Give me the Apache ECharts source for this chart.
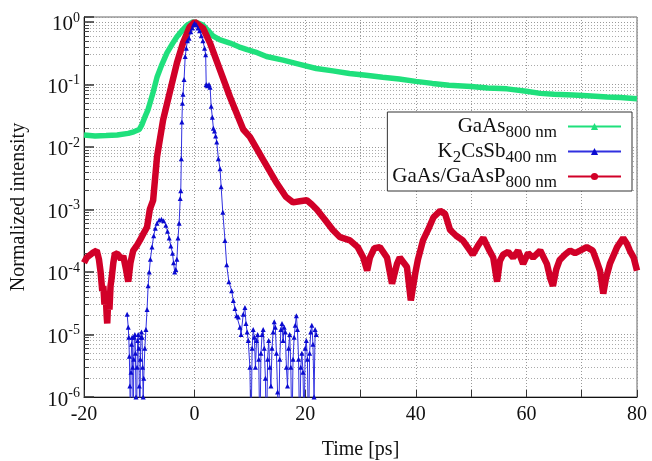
<!DOCTYPE html>
<html><head><meta charset="utf-8">
<script src="https://cdn.jsdelivr.net/npm/echarts@6/dist/echarts.min.js"></script>
<style>html,body{margin:0;padding:0;background:#fff}#c{width:652px;height:461px}</style>
</head><body><div id="c"></div>
<script>
// GaAs 800 nm  [time ps, normalized intensity]
const gaasData = [[-20,0.0155],[-18,0.0150],[-16,0.0152],[-14,0.0155],[-12,0.0165],[-11,0.0175],[-10,0.019],[-9.5,0.023],[-9,0.030],[-8.4,0.040],[-7.5,0.075],[-6.8,0.13],[-6,0.2],[-5,0.32],[-4,0.45],[-3.2,0.58],[-2.3,0.72],[-1.4,0.88],[-0.3,1.0],[0.5,0.97],[1.5,0.89],[2.5,0.72],[3.3,0.6],[4.5,0.52],[6.4,0.46],[8,0.40],[9.5,0.36],[11,0.33],[13,0.28],[16,0.245],[19,0.21],[22,0.18],[25,0.165],[28,0.15],[31,0.14],[34,0.13],[37,0.122],[40,0.112],[43,0.104],[46,0.097],[50,0.093],[53,0.088],[56.5,0.085],[60,0.078],[62.5,0.072],[65,0.070],[68.4,0.068],[71,0.066],[74.6,0.063],[77,0.062],[80,0.059]];
// K2CsSb 400 nm
const k2csData = [[-12.2,2.1e-5],[-12.0,1.3e-5],[-11.9,9e-6],[-11.8,4.5e-6],[-11.7,1.5e-6],[-11.6,3e-7],[-11.5,2.5e-6],[-11.4,7e-6],[-11.3,9e-6],[-11.2,3e-6],[-11.1,2e-7],[-11.0,4e-6],[-10.9,9e-6],[-10.8,1.0e-5],[-10.7,5e-6],[-10.6,1e-6],[-10.5,2e-7],[-10.4,3e-6],[-10.3,8e-6],[-10.2,1.0e-5],[-10.1,6e-6],[-10.0,1.5e-6],[-9.9,2e-7],[-9.8,4e-6],[-9.7,9e-6],[-9.6,1.1e-5],[-9.5,9e-6],[-9.4,3e-6],[-9.3,1e-6],[-9.2,2e-6],[-9.0,6e-6],[-8.8,1.2e-5],[-8.6,2.5e-5],[-8.4,6e-5],[-8.2,1.0e-4],[-8.0,1.6e-4],[-7.7,2.5e-4],[-7.4,3.8e-4],[-7.1,5e-4],[-6.8,6e-4],[-6.4,6.8e-4],[-6.0,7e-4],[-5.6,6.6e-4],[-5.2,5.6e-4],[-4.9,4.5e-4],[-4.6,3.5e-4],[-4.3,2.6e-4],[-4.0,2.0e-4],[-3.8,1.4e-4],[-3.6,1.0e-4],[-3.4,1.1e-4],[-3.2,1.6e-4],[-3.0,3.5e-4],[-2.8,6e-4],[-2.6,1.5e-3],[-2.5,2.0e-3],[-2.4,6.5e-3],[-2.3,0.025],[-2.2,0.05],[-2.1,0.07],[-1.9,0.12],[-1.7,0.28],[-1.5,0.38],[-1.3,0.5],[-1.0,0.55],[-0.7,0.7],[-0.4,0.8],[-0.2,0.9],[0,0.95],[0.3,0.9],[0.6,0.8],[0.9,0.72],[1.2,0.6],[1.5,0.5],[1.8,0.38],[2.0,0.3],[2.1,0.1],[2.3,0.095],[2.6,0.1],[2.8,0.09],[3.0,0.045],[3.2,0.03],[3.4,0.02],[3.6,0.018],[3.8,0.015],[4.0,0.012],[4.3,0.0065],[4.6,0.0045],[4.8,0.0023],[5.1,0.0009],[5.5,3.2e-4],[5.8,1.3e-4],[6.2,7e-5],[6.7,5e-5],[7.0,3.5e-5],[7.3,2.6e-5],[7.6,2.0e-5],[7.9,1.9e-5],[8.2,1.3e-5],[8.4,1.0e-5],[8.8,2.1e-5],[9.1,2.7e-5],[9.3,1.5e-5],[9.5,1.1e-5],[9.7,8e-6],[10.0,3e-6],[10.2,2e-7],[10.4,6e-6],[10.6,1.2e-5],[10.8,9e-6],[11.0,3e-6],[11.2,8e-6],[11.4,1.0e-5],[11.6,4e-6],[11.8,2e-7],[12.0,5e-6],[12.2,1.0e-5],[12.4,1.2e-5],[12.6,6e-6],[12.8,2e-6],[13.0,2e-7],[13.2,4e-6],[13.4,8e-6],[13.6,3e-6],[13.8,1.5e-6],[14.0,6e-6],[14.2,1.1e-5],[14.4,1.6e-5],[14.6,1.3e-5],[14.8,5e-6],[15.0,1.2e-6],[15.2,3e-7],[15.4,4e-6],[15.6,1.2e-5],[15.8,1.5e-5],[16.0,8e-6],[16.2,1.3e-5],[16.4,1.1e-5],[16.6,3e-6],[16.8,1.5e-6],[17.0,6e-6],[17.2,1.0e-5],[17.4,3e-6],[17.6,2e-7],[17.8,4e-6],[18.0,9e-6],[18.2,1.4e-5],[18.4,2.0e-5],[18.6,1.2e-5],[18.8,4e-6],[19.0,2e-7],[19.2,3e-6],[19.4,5e-6],[19.6,2.5e-6],[19.8,3e-7],[20.0,6e-6],[20.2,8e-6],[20.4,4e-6],[20.6,2e-7],[20.8,5e-6],[21.0,1.1e-5],[21.2,1.4e-5],[21.4,7e-6],[21.6,1e-6],[21.8,1.2e-5],[22.0,1e-5]];
// GaAs/GaAsP 800 nm
const gaaspData = [[-20,1.4e-4],[-19.5,1.7e-4],[-18.5,2.0e-4],[-17.7,2.2e-4],[-17.3,1.6e-4],[-17,1.0e-4],[-16.7,5e-5],[-16.5,6e-5],[-16.3,3e-5],[-16.1,5e-5],[-15.9,2e-5],[-15.8,1.5e-5],[-15.6,4e-5],[-15.4,2.5e-5],[-15.2,6e-5],[-15,8e-5],[-14.7,1.4e-4],[-14.4,2.0e-4],[-13.8,1.9e-4],[-13.3,1.6e-4],[-12.9,1.8e-4],[-12.4,1.1e-4],[-12,7e-5],[-11.6,1.4e-4],[-11.1,2.2e-4],[-10.5,2.6e-4],[-9.9,3.2e-4],[-9.2,4.2e-4],[-8.6,5.2e-4],[-8.1,1.0e-3],[-7.5,1.4e-3],[-6.8,6.9e-3],[-5.7,0.027],[-4.4,0.081],[-3.2,0.22],[-2.1,0.46],[-0.9,0.83],[0,1.0],[1.5,0.8],[2.8,0.46],[4.6,0.17],[6.4,0.063],[8.8,0.019],[10,0.0145],[12.4,0.0062],[14.9,0.0026],[16.5,0.0016],[17.8,0.0013],[19,0.00135],[20.3,0.0014],[21.2,0.0012],[22.1,0.001],[23.5,0.0007],[25,0.00047],[26.3,0.00036],[28.1,0.00032],[29.5,0.00025],[30.5,0.00017],[31.2,0.000105],[31.7,0.00017],[32.5,0.00024],[33.5,0.00025],[34.8,0.00017],[35.7,6.5e-5],[36.6,1.35e-4],[37.1,1.7e-4],[38.4,1.2e-4],[39.1,3.5e-5],[39.9,9.5e-5],[40.4,1.6e-4],[41.3,3.2e-4],[42.2,4.7e-4],[43.2,7.5e-4],[44.4,9.5e-4],[45.3,8.5e-4],[46.2,4.7e-4],[47.3,3.8e-4],[48.5,3.2e-4],[49.5,2.4e-4],[50.3,1.9e-4],[51.3,2.7e-4],[52.2,3.5e-4],[53.2,2.3e-4],[54,1.7e-4],[54.7,7e-5],[55.2,1.5e-4],[55.8,1.9e-4],[56.7,2.1e-4],[57.6,1.7e-4],[58.5,2.2e-4],[59.4,1.35e-4],[60.3,2.0e-4],[61.2,1.7e-4],[62.5,2.2e-4],[63.7,1.35e-4],[64.3,8e-5],[64.8,6e-5],[65.4,1.1e-4],[66,1.55e-4],[67,1.9e-4],[67.9,2.2e-4],[68.8,2.0e-4],[69.7,2.2e-4],[70.9,2.5e-4],[72,2.2e-4],[72.7,1.5e-4],[73.3,1.05e-4],[73.9,4.5e-5],[74.4,8e-5],[75.1,1.35e-4],[76.4,2.5e-4],[77.5,3.5e-4],[78.2,2.8e-4],[78.7,2.2e-4],[79.4,1.7e-4],[80,1.05e-4]];

const seriesNames = ['GaAs800', 'K2CsSb400', 'GaAsGaAsP800'];
const legendRich = {
  GaAs800: '{m|GaAs}{s|800 nm}',
  K2CsSb400: '{m|K}{s2|2}{m|CsSb}{s|400 nm}',
  GaAsGaAsP800: '{m|GaAs/GaAsP}{s|800 nm}'
};
const xTicks = [-20, 0, 20, 40, 60, 80];
const decadeExps = [-6, -5, -4, -3, -2, -1, 0];
const minorTicks = [];
decadeExps.slice(0, 6).forEach(e => { [2,3,4,5,6,7,8,9].forEach(m => minorTicks.push(m * Math.pow(10, e))); });

const FONT = 'Liberation Serif';
const chart = echarts.init(document.getElementById('c'), null, {renderer: 'canvas'});
chart.setOption({
  animation: false,
  backgroundColor: '#fff',
  textStyle: {fontFamily: FONT, color: '#111'},
  grid: {left: 84, right: 15, top: 17, bottom: 64, show: true, borderColor: '#666', borderWidth: 1,
    containLabel: false, outerBoundsMode: 'none'},
  legend: {
    orient: 'vertical', align: 'right', right: 20, top: 112,
    backgroundColor: '#fff', borderColor: '#333', borderWidth: 1,
    padding: [0, 10, 0, 5], itemGap: -4, itemWidth: 53, itemHeight: 9,
    data: seriesNames,
    formatter: n => legendRich[n],
    textStyle: {
      fontFamily: FONT, color: '#111',
      rich: {
        m: {fontFamily: FONT, fontSize: 21, lineHeight: 20, color: '#111'},
        s: {fontFamily: FONT, fontSize: 17, lineHeight: 16, padding: [12, 6, 0, 0], color: '#111'},
        s2: {fontFamily: FONT, fontSize: 17, lineHeight: 16, padding: [12, 0, 0, 0], color: '#111'}
      }
    }
  },
  xAxis: {
    type: 'value', min: -20, max: 80, interval: 10,
    axisLine: {show: true, onZero: false, lineStyle: {color: '#111', width: 1}},
    axisTick: {show: true, inside: true, length: 7, lineStyle: {color: '#333'}},
    axisLabel: {margin: 8, fontSize: 20, fontFamily: FONT, color: '#111',
      formatter: v => xTicks.indexOf(v) >= 0 ? String(v) : ''},
    splitLine: {show: true, lineStyle: {color: '#999', type: [1, 2], width: 1}},
    name: 'Time [ps]', nameLocation: 'middle', nameGap: 43,
    nameTextStyle: {fontSize: 20, fontFamily: FONT, color: '#111'}
  },
  yAxis: [{
    type: 'log', logBase: 10, min: 1e-6, max: 1.2,
    axisLine: {show: true, onZero: false, lineStyle: {color: '#111', width: 1}},
    axisTick: {show: true, inside: true, length: 10, lineStyle: {color: '#333', width: 1.5}},
    axisLabel: {margin: 4, fontFamily: FONT, color: '#111',
      formatter: v => {
        const l = Math.log10(v), e = Math.round(l);
        if (Math.abs(l - e) > 1e-6) return '';
        return '{b|10}{s|' + e + '}';
      },
      rich: {
        b: {fontFamily: FONT, fontSize: 21, lineHeight: 21, padding: [6, 0, 0, 0], color: '#111'},
        s: {fontFamily: FONT, fontSize: 14, lineHeight: 14, padding: [0, 0, 8, 0], color: '#111'}
      }
    },
    splitLine: {show: true, lineStyle: {color: '#999', type: [1, 2], width: 1}},
    name: 'Normalized intensity', nameLocation: 'middle', nameGap: 55,
    nameTextStyle: {fontSize: 20, fontFamily: FONT, color: '#111'}
  }, {
    type: 'log', logBase: 10, min: 1e-6, max: 1.2, position: 'left',
    axisLine: {show: false, onZero: false}, axisLabel: {show: false},
    axisTick: {show: true, inside: true, length: 5, customValues: minorTicks, lineStyle: {color: '#444'}},
    splitLine: {show: true, lineStyle: {color: '#aaa', type: [1, 2], width: 1}}
  }],
  series: [{
    name: 'GaAs800', type: 'line', data: gaasData, yAxisIndex: 0,
    symbol: 'triangle', showSymbol: false, symbolSize: 6, z: 2,
    lineStyle: {color: '#1fe07c', width: 5.5}, itemStyle: {color: '#1fe07c'}
  }, {
    name: 'K2CsSb400', type: 'line', data: k2csData, yAxisIndex: 0,
    symbol: 'triangle', showSymbol: true, symbolSize: 5, z: 4,
    lineStyle: {color: '#3030e0', width: 1}, itemStyle: {color: '#0a0ad0'}
  }, {
    name: 'GaAsGaAsP800', type: 'line', data: gaaspData, yAxisIndex: 0,
    symbol: 'circle', showSymbol: false, symbolSize: 6, z: 3,
    lineStyle: {color: '#d10028', width: 6.5}, itemStyle: {color: '#d10028'}
  }]
});
</script></body></html>
